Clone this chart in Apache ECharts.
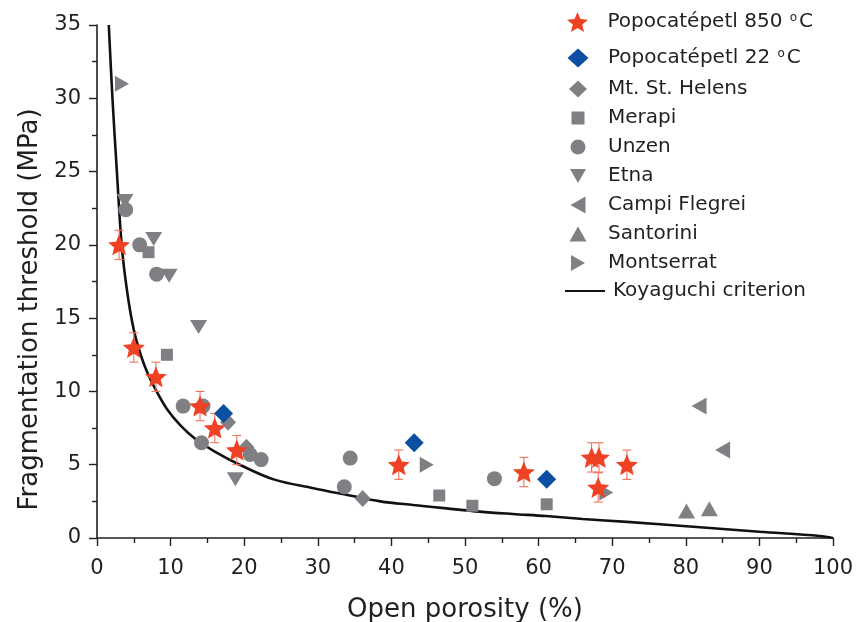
<!DOCTYPE html>
<html>
<head>
<meta charset="utf-8">
<script src="https://cdn.jsdelivr.net/npm/echarts@6/dist/echarts.min.js"></script>
<style>
html,body{margin:0;padding:0;background:#fff;}
#chart{width:862px;height:622px;}
</style>
</head>
<body>
<div id="chart"></div>
<script>
// ---------- data ----------
var seriesNames = ['Popocatépetl 850 °C', 'Popocatépetl 22 °C', 'Mt. St. Helens', 'Merapi', 'Unzen', 'Etna', 'Campi Flegrei', 'Santorini', 'Montserrat', 'Koyaguchi criterion'];

var popo850X = [3, 5, 8, 14, 16, 19, 41, 58, 67.2, 68.2, 68.1, 72];
var popo850Y = [20, 13, 11, 9, 7.5, 6, 5, 4.5, 5.5, 5.5, 3.45, 5];
var popo850Err = [1, 1, 1, 1, 1, 1, 1, 1, 1, 1, 1, 1];

var popo22X = [17.2, 43.1, 61.1];
var popo22Y = [8.5, 6.5, 4.0];

var helensX = [17.8, 20.3, 36.1];
var helensY = [7.9, 6.2, 2.7];

var merapiX = [7.0, 9.5, 46.5, 51.0, 61.1];
var merapiY = [19.5, 12.5, 2.9, 2.2, 2.3];

var unzenX = [3.9, 5.8, 8.1, 11.7, 14.4, 14.2, 20.8, 22.3, 33.6, 34.4, 54.0];
var unzenY = [22.4, 20.0, 18.0, 9.0, 9.0, 6.5, 5.7, 5.35, 3.5, 5.45, 4.05];

var etnaX = [3.8, 7.7, 9.8, 13.8, 18.8];
var etnaY = [23.0, 20.4, 17.9, 14.4, 4.0];

var campiX = [81.8, 85.0];
var campiY = [9.0, 6.0];

var santoriniX = [80.1, 83.2];
var santoriniY = [1.85, 2.0];

var montX = [3.4, 44.8, 69.2];
var montY = [31.0, 5.0, 3.1];

var koyaX = [1.6, 2.1, 2.7, 3.35, 4.1, 5.0, 6.0, 7.0, 8.1, 9.5, 11.3, 13.5, 16, 19.4, 24, 29.4, 33.9, 38.5, 43, 47.5, 52, 56.5, 61, 66, 72, 81, 90, 98.2, 100];
var koyaY = [35, 30, 25, 20, 16.8, 14.2, 12.4, 11.1, 10, 8.8, 7.7, 6.7, 5.9, 5.0, 4.0, 3.4, 2.95, 2.5, 2.25, 2.02, 1.8, 1.64, 1.5, 1.3, 1.1, 0.77, 0.43, 0.14, 0];

var xTicks = [0, 10, 20, 30, 40, 50, 60, 70, 80, 90, 100];
var yTicks = [0, 5, 10, 15, 20, 25, 30, 35];

// ---------- helpers ----------
function pairs(xs, ys) { return xs.map(function (x, i) { return [x, ys[i]]; }); }

var FONT = 'DejaVu Sans';
var TXT = '#231f20';
var GRAY = '#7f8084';
var RED = '#ef4123';
var ERR = '#f3735a';
var BLUE = '#0b4ea2';

var STAR = 'path://M0,-100 L26.5,-36.4 L95.1,-30.9 L42.8,13.9 L58.8,80.9 L0,45 L-58.8,80.9 L-42.8,13.9 L-95.1,-30.9 L-26.5,-36.4 Z';
var DOWN = 'path://M0,0 L10,0 L5,8.5 Z';
var LEFT = 'path://M10,0 L0,5.5 L10,11 Z';
var RIGHT = 'path://M0,0 L10,5.5 L0,11 Z';

var legendIcons = {
  'Popocatépetl 850 °C': STAR,
  'Popocatépetl 22 °C': 'path://M0,0 M22,20 M0.5,10 L11,0.5 L21.5,10 L11,19.5 Z',
  'Mt. St. Helens': 'path://M0,0 M22,20 M2,10 L11,1.5 L20,10 L11,18.5 Z',
  'Merapi': 'path://M0,0 M22,20 M4.5,3.5 L17.5,3.5 L17.5,16.5 L4.5,16.5 Z',
  'Unzen': 'path://M0,0 M22,20 M3.5,10 A7.5,7.5 0 1,1 18.5,10 A7.5,7.5 0 1,1 3.5,10 Z',
  'Etna': 'path://M0,0 M22,20 M3,3 L19,3 L11,17 Z',
  'Campi Flegrei': 'path://M0,0 M22,20 M18.5,1.5 L3.5,10 L18.5,18.5 Z',
  'Santorini': 'path://M0,0 M22,20 M2.5,17.5 L19.5,17.5 L11,2.5 Z',
  'Montserrat': 'path://M0,0 M22,20 M4,2 L18,10 L4,18 Z'
};

function legendFormatter(name) {
  if (name.indexOf('°C') >= 0) {
    var base = name.replace('°C', '');
    return '{t|' + base + '}{s|o}{t|C}';
  }
  return '{t|' + name + '}';
}
var legendRich = {
  t: { fontSize: 20, fontFamily: FONT, color: TXT, lineHeight: 20 },
  s: { fontSize: 12, fontFamily: FONT, color: TXT, verticalAlign: 'top', lineHeight: 12, padding: [0, 2, 10, 1] }
};

function legendBlock(names, top) {
  return {
    orient: 'vertical',
    left: 562,
    top: top,
    itemWidth: 22,
    itemHeight: 20,
    itemGap: 9,
    selectedMode: false,
    data: names.map(function (n) { return { name: n, icon: legendIcons[n] }; }),
    formatter: legendFormatter,
    textStyle: { fontSize: 20, fontFamily: FONT, color: TXT, padding: [0, 0, 0, 14], rich: legendRich }
  };
}

function scatter(name, xs, ys, symbol, size, color, z) {
  return {
    type: 'scatter',
    name: name,
    data: pairs(xs, ys),
    symbol: symbol,
    symbolSize: size,
    itemStyle: { color: color, opacity: 1 },
    z: z,
    silent: true
  };
}

var chart = echarts.init(document.getElementById('chart'), null, { renderer: 'canvas' });

var option = {
  animation: false,
  backgroundColor: '#ffffff',
  grid: { left: 97, right: 29, top: 25, bottom: 84, containLabel: false, outerBoundsMode: 'none' },
  legend: [
    legendBlock(['Popocatépetl 850 °C'], 7),
    legendBlock(['Popocatépetl 22 °C', 'Mt. St. Helens', 'Merapi', 'Unzen', 'Etna', 'Campi Flegrei', 'Santorini', 'Montserrat'], 43),
    {
      orient: 'vertical',
      left: 560,
      top: 276,
      itemWidth: 40,
      itemHeight: 20,
      selectedMode: false,
      data: [{ name: 'Koyaguchi criterion', icon: 'path://M0,0 M40,20 M0,9 L40,9 L40,11 L0,11 Z', itemStyle: { color: '#111' } }],
      textStyle: { fontSize: 20, fontFamily: FONT, color: TXT, padding: [0, 0, 0, 3] }
    }
  ],
  xAxis: {
    type: 'value',
    min: xTicks[0],
    max: xTicks[xTicks.length - 1],
    interval: 10,
    name: 'Open porosity (%)',
    nameLocation: 'middle',
    nameGap: 59,
    nameTextStyle: { fontSize: 26, fontFamily: FONT, color: TXT },
    axisLine: { show: true, onZero: false, lineStyle: { color: TXT, width: 1.6 } },
    axisTick: { show: true, inside: false, length: 8, lineStyle: { color: TXT, width: 1.4 } },
    minorTick: { show: true, splitNumber: 2, length: 5, lineStyle: { color: TXT, width: 1.4 } },
    axisLabel: { fontSize: 21, fontFamily: FONT, color: TXT, margin: 20 },
    splitLine: { show: false }
  },
  yAxis: {
    type: 'value',
    min: yTicks[0],
    max: yTicks[yTicks.length - 1],
    interval: 5,
    name: 'Fragmentation threshold (MPa)',
    nameLocation: 'middle',
    nameGap: 54,
    nameTextStyle: { fontSize: 26, fontFamily: FONT, color: TXT, padding: [0, 56, 0, 0] },
    axisLine: { show: true, onZero: false, lineStyle: { color: TXT, width: 1.6 } },
    axisTick: { show: true, inside: false, length: 8, lineStyle: { color: TXT, width: 1.4 } },
    minorTick: { show: true, splitNumber: 2, length: 5, lineStyle: { color: TXT, width: 1.4 } },
    axisLabel: { fontSize: 21, fontFamily: FONT, color: TXT, margin: 16 },
    splitLine: { show: false }
  },
  series: [
    {
      type: 'line',
      name: 'Koyaguchi criterion',
      data: pairs(koyaX, koyaY),
      showSymbol: false,
      symbol: 'none',
      smooth: 0.35,
      lineStyle: { color: '#111111', width: 2.6 },
      itemStyle: { color: '#111111' },
      z: 1,
      silent: true
    },
    scatter('Mt. St. Helens', helensX, helensY, 'diamond', [16, 17], GRAY, 2),
    scatter('Merapi', merapiX, merapiY, 'rect', 12, GRAY, 2),
    scatter('Unzen', unzenX, unzenY, 'circle', 15, GRAY, 2),
    scatter('Etna', etnaX, etnaY, DOWN, [17, 14], GRAY, 2),
    scatter('Campi Flegrei', campiX, campiY, LEFT, [15, 17], GRAY, 2),
    scatter('Santorini', santoriniX, santoriniY, 'triangle', [17, 15], GRAY, 2),
    scatter('Montserrat', montX, montY, RIGHT, [14, 16], GRAY, 2),
    scatter('Popocatépetl 22 °C', popo22X, popo22Y, 'diamond', [19, 19], BLUE, 3),
    {
      type: 'custom',
      name: 'error',
      data: popo850X.map(function (x, i) { return [x, popo850Y[i] - popo850Err[i], popo850Y[i] + popo850Err[i]]; }),
      encode: { x: 0, y: [1, 2] },
      renderItem: function (params, api) {
        var x = api.value(0), lo = api.value(1), hi = api.value(2);
        var p1 = api.coord([x, hi]);
        var p2 = api.coord([x, lo]);
        var w = 4.5;
        var st = { stroke: ERR, lineWidth: 1.1, fill: null };
        return {
          type: 'group',
          children: [
            { type: 'line', shape: { x1: p1[0], y1: p1[1], x2: p2[0], y2: p2[1] }, style: st },
            { type: 'line', shape: { x1: p1[0] - w, y1: p1[1], x2: p1[0] + w, y2: p1[1] }, style: st },
            { type: 'line', shape: { x1: p2[0] - w, y1: p2[1], x2: p2[0] + w, y2: p2[1] }, style: st }
          ]
        };
      },
      z: 3,
      silent: true
    },
    scatter('Popocatépetl 850 °C', popo850X, popo850Y, STAR, [22, 21], RED, 4)
  ]
};

chart.setOption(option);
</script>
</body>
</html>
